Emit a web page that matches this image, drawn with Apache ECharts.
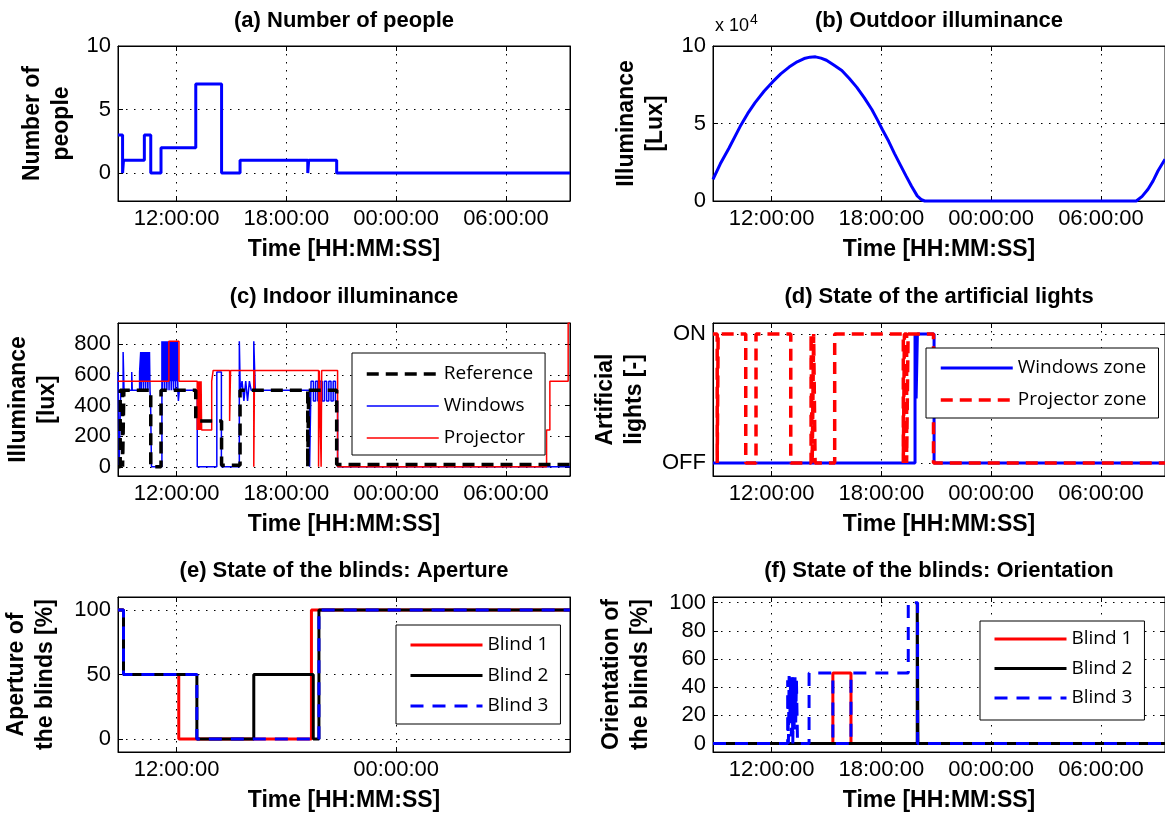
<!DOCTYPE html>
<html>
<head>
<meta charset="utf-8">
<script src="https://cdn.jsdelivr.net/npm/echarts@6/dist/echarts.min.js"></script>
<style>
  html, body { margin: 0; padding: 0; background: #fff; }
  #chart { width: 1165px; height: 815px; }
</style>
</head>
<body>
<div id="chart"></div>
<script>
  // time is in hours from midnight of the first day (24 = 00:00:00 next day)
  const X_MIN = 8.8
  const X_MAX = 33.5
  const xTicks = [12, 18, 24, 30]
  const xTicksApert = [12, 24]

  // (a) number of people
  const peopleT = [8.8, 9.05, 9.1, 10.24, 10.59, 11.15, 13.05, 14.46, 15.47, 19.17, 19.22, 20.75, 33.5]
  const peopleN = [3, 0, 1, 3, 0, 2, 7, 0, 1, 0, 1, 0, 0]

  // (b) outdoor illuminance [lux]
  const outdoorT = [8.8, 9.2, 9.67, 10.28, 10.7, 11.1, 11.6, 12.07, 12.5, 12.96, 13.4, 13.78, 14.1, 14.4, 14.7, 15.0, 15.4, 15.84, 16.25, 16.66, 17.07, 17.48, 17.8, 18.06, 18.4, 18.72, 19.05, 19.34, 19.65, 19.96, 20.2, 20.37, 31.93, 32.25, 32.57, 32.85, 33.12, 33.5]
  const outdoorLux = [14000, 24000, 34000, 48000, 56500, 63500, 71000, 77000, 82000, 86400, 89800, 91900, 92800, 93000, 92200, 90800, 87700, 84200, 79000, 73300, 66500, 59000, 52000, 46000, 38500, 30600, 23000, 16400, 9500, 3300, 800, 0, 0, 3000, 7600, 13000, 19500, 27000]

  // (c) indoor illuminance [lux]
  const refT = [8.8, 8.92, 9.05, 9.12, 10.59, 11.15, 13.05, 14.46, 15.47, 19.17, 19.22, 20.75, 33.5]
  const refLux = [0, 500, 0, 500, 0, 500, 300, 10, 500, 0, 500, 15, 15]
  const winT = [8.8, 8.86, 8.95, 9.08, 9.13, 9.55, 9.58, 9.98, 10.04, 10.07, 10.1, 10.13, 10.16, 10.19, 10.22, 10.25, 10.28, 10.31, 10.34,
    10.37, 10.4, 10.43, 10.46, 10.49, 10.52, 10.55, 10.58, 10.63,
    11.2, 11.23, 11.26, 11.29, 11.32, 11.35, 11.38, 11.41, 11.44, 11.47, 11.5, 11.53, 11.56, 11.59, 11.62, 11.65, 11.68, 11.71, 11.74,
    11.77, 11.8, 11.83, 11.86, 11.89, 11.92, 11.95, 11.98, 12.01, 12.04, 12.07, 12.1, 12.15, 13.13, 14.2, 14.45,
    15.43, 15.48, 15.58, 15.68, 15.78, 15.88, 15.98, 16.08, 16.22, 16.3, 19.27, 19.35, 19.48, 19.6, 19.72, 19.84, 19.96, 20.08, 20.2,
    20.32, 20.44, 20.56, 20.68, 20.8, 33.5]
  const winLux = [620, 0, 500, 750, 500, 620, 500, 620, 750, 500, 750, 560, 750, 500, 750, 560, 750, 500, 750,
    560, 750, 500, 750, 560, 750, 500, 430, 0,
    820, 500, 820, 560, 820, 500, 820, 560, 820, 500, 820, 560, 820, 500, 820, 560, 820, 500, 820,
    560, 820, 500, 820, 560, 820, 500, 820, 560, 820, 500, 430, 500, 0, 620, 0,
    820, 500, 560, 430, 560, 430, 560, 500, 820, 500, 0, 560, 430, 560, 430, 560, 430, 560, 430,
    560, 430, 560, 430, 0, 0]
  const projT = [8.8, 11.58, 12.13, 13.13, 13.16, 13.19, 13.22, 13.25, 13.28, 13.31, 13.34, 13.37, 13.92, 14.0, 14.9, 14.95,
    16.22, 16.26, 19.76, 19.8, 19.9, 19.93, 20.8, 32.22, 32.4, 33.4, 33.5]
  const projLux = [560, 820, 560, 240, 560, 240, 560, 240, 560, 240, 560, 240, 560, 630, 300, 630,
    0, 630, 0, 630, 0, 630, 0, 240, 560, 940, 940]

  // (d) artificial lights (1 = ON, 0 = OFF)
  const lightWinT = [8.8, 19.84, 19.9, 19.97, 20.88, 33.5]
  const lightWinV = [0, 1, 0.5, 1, 0, 0]
  const lightProjT = [8.8, 9.03, 9.08, 10.59, 11.15, 13.05, 14.16, 14.22, 14.3, 14.38, 15.45, 19.2, 19.26, 19.38, 19.46, 20.85, 33.5]
  const lightProjV = [1, 0, 1, 0, 1, 0, 1, 0, 1, 0, 1, 0, 1, 0, 1, 0, 0]

  // (e) blinds aperture [%]
  const ap1T = [8.8, 9.1, 12.12, 19.37, 33.5]
  const ap1V = [100, 50, 0, 100, 100]
  const ap2T = [8.8, 9.1, 13.11, 16.22, 19.47, 19.78, 33.5]
  const ap2V = [100, 50, 0, 50, 0, 100, 100]
  const ap3T = [8.8, 9.1, 13.11, 19.78, 33.5]
  const ap3V = [100, 50, 0, 100, 100]

  // (f) blinds orientation [%]
  const or1T = [8.8, 15.35, 16.34, 33.5]
  const or1V = [0, 50, 0, 0]
  const or2T = [8.8, 19.96, 20.0, 33.5]
  const or2V = [0, 100, 0, 0]
  const or3T = [8.8, 12.88, 12.92, 12.96, 13.0, 13.04, 13.08, 13.12, 13.16, 13.2, 13.24, 13.28, 13.32, 13.36, 13.42, 14.05, 15.35, 16.34, 19.47, 19.98, 33.5]
  const or3V = [0, 45, 0, 48, 20, 45, 5, 48, 0, 40, 10, 48, 15, 45, 0, 50, 0, 50, 100, 0, 0]

  const FONT = '"Liberation Sans", Arial, sans-serif'
  const LEG_FONT = '"Open Sans", "DejaVu Sans", sans-serif'
  const BLUE = '#0000ff'
  const RED = '#ff0000'
  const BLACK = '#000000'

  const pair = (t, v) => t.map((x, i) => [x, v[i]])
  const hourLabel = (v) => String(((v % 24) + 24) % 24).padStart(2, '0') + ':00:00'

  const COLS = [118, 713]
  const WIDTH = 452
  const ROWS = [
    { top: 46, height: 155, titleTop: 10 },
    { top: 323, height: 153, titleTop: 286 },
    { top: 597, height: 155, titleTop: 560 }
  ]

  // one entry per subplot
  const panels = [
    {
      title: '(a) Number of people', col: 0, row: 0,
      yName: 'Number of\npeople', yGap: 42, yMin: -2.2, yMax: 10, yTicks: [0, 5, 10],
      series: [{ name: 'People', data: pair(peopleT, peopleN), color: BLUE, width: 3 }]
    },
    {
      title: '(b) Outdoor illuminance', col: 1, row: 0,
      yName: 'Illuminance\n[Lux]', yGap: 43, yMin: 0, yMax: 100000, yTicks: [0, 50000, 100000],
      yFmt: (v) => String(v / 10000), step: false, clip: false,
      series: [{ name: 'Outdoor', data: pair(outdoorT, outdoorLux), color: BLUE, width: 3 }]
    },
    {
      title: '(c) Indoor illuminance', col: 0, row: 1,
      yName: 'Illuminance\n[lux]', yGap: 56, yMin: -60, yMax: 940, yTicks: [0, 200, 400, 600, 800],
      series: [
        { name: 'Windows', data: pair(winT, winLux), color: BLUE, width: 1.5 },
        { name: 'Projector', data: pair(projT, projLux), color: RED, width: 1.5 },
        { name: 'Reference', data: pair(refT, refLux), color: BLACK, width: 3.5, dash: [12, 7] }
      ],
      legend: { names: ['Reference', 'Windows', 'Projector'], left: 352, top: 353, gap: 12, padding: [11, 12, 7, 13] }
    },
    {
      title: '(d) State of the artificial lights', col: 1, row: 1,
      yName: 'Artificial\nlights [-]', yGap: 64, yMin: -0.1, yMax: 1.085, yTicks: [0, 1],
      yFmt: (v) => (v === 1 ? 'ON' : 'OFF'),
      series: [
        { name: 'Windows zone', data: pair(lightWinT, lightWinV), color: BLUE, width: 3 },
        { name: 'Projector zone', data: pair(lightProjT, lightProjV), color: RED, width: 3.5, dash: [12, 7] }
      ],
      legend: { names: ['Windows zone', 'Projector zone'], left: 926, top: 348, gap: 12, padding: [10, 12, 8, 13] }
    },
    {
      title: '(e) State of the blinds: Aperture', col: 0, row: 2, xt: xTicksApert,
      yName: 'Aperture of\nthe blinds [%]', yGap: 58, yMin: -10, yMax: 110, yTicks: [0, 50, 100],
      series: [
        { name: 'Blind 1', data: pair(ap1T, ap1V), color: RED, width: 3 },
        { name: 'Blind 2', data: pair(ap2T, ap2V), color: BLACK, width: 3 },
        { name: 'Blind 3', data: pair(ap3T, ap3V), color: BLUE, width: 3, dash: [13, 9] }
      ],
      legend: { names: ['Blind 1', 'Blind 2', 'Blind 3'], left: 396, top: 625, gap: 10.5, padding: [10, 12, 8, 13] }
    },
    {
      title: '(f) State of the blinds: Orientation', col: 1, row: 2,
      yName: 'Orientation of\nthe blinds [%]', yGap: 58, yMin: -6, yMax: 104, yTicks: [0, 20, 40, 60, 80, 100],
      series: [
        { name: 'Blind 1', data: pair(or1T, or1V), color: RED, width: 3 },
        { name: 'Blind 2', data: pair(or2T, or2V), color: BLACK, width: 3 },
        { name: 'Blind 3', data: pair(or3T, or3V), color: BLUE, width: 3, dash: [13, 9] }
      ],
      legend: { names: ['Blind 1', 'Blind 2', 'Blind 3'], left: 980, top: 621, gap: 9.5, padding: [8, 12, 12, 13] }
    }
  ]

  const tickStyle = { show: true, inside: true, length: 5, lineStyle: { color: BLACK, width: 1 } }
  const dotted = { show: true, lineStyle: { color: BLACK, width: 1, type: [1.5, 6.5] } }
  const boxLine = { show: true, onZero: false, lineStyle: { color: BLACK, width: 1 } }
  const boldText = { fontFamily: FONT, fontWeight: 'bold', fontSize: 23, color: BLACK }

  const grid = []
  const xAxis = []
  const yAxis = []
  const series = []
  const title = []
  const legend = []

  panels.forEach((p, i) => {
    const r = ROWS[p.row]
    const left = COLS[p.col]
    const xt = p.xt || xTicks
    grid.push({ left: left, top: r.top, width: WIDTH, height: r.height, show: true, borderColor: BLACK, borderWidth: 1 })
    title.push({
      text: p.title, left: left + WIDTH / 2, top: r.titleTop, textAlign: 'center', padding: 0,
      textStyle: { ...boldText, fontSize: 22 }
    })
    // bottom x axis with labels, top x axis only for the inward ticks
    xAxis.push({
      gridIndex: i, type: 'value', min: X_MIN, max: X_MAX, position: 'bottom',
      axisLine: boxLine,
      axisTick: { ...tickStyle, customValues: xt },
      axisLabel: { customValues: xt, formatter: hourLabel, color: BLACK, fontFamily: FONT, fontSize: 22, margin: 7 },
      splitLine: dotted,
      name: 'Time [HH:MM:SS]', nameLocation: 'middle', nameGap: 37,
      nameTextStyle: boldText
    })
    xAxis.push({
      gridIndex: i, type: 'value', min: X_MIN, max: X_MAX, position: 'top',
      axisLine: boxLine, axisTick: { ...tickStyle, customValues: xt },
      axisLabel: { show: false }, splitLine: { show: false }
    })
    yAxis.push({
      gridIndex: i, type: 'value', min: p.yMin, max: p.yMax, position: 'left',
      axisLine: boxLine,
      axisTick: { ...tickStyle, customValues: p.yTicks },
      axisLabel: { customValues: p.yTicks, formatter: p.yFmt || ((v) => String(v)), color: BLACK, fontFamily: FONT, fontSize: 22, margin: 7 },
      splitLine: dotted,
      name: p.yName, nameLocation: 'middle', nameRotate: 90, nameGap: p.yGap,
      nameTextStyle: { ...boldText, lineHeight: 29 }
    })
    yAxis.push({
      gridIndex: i, type: 'value', min: p.yMin, max: p.yMax, position: 'right',
      axisLine: boxLine, axisTick: { ...tickStyle, customValues: p.yTicks },
      axisLabel: { show: false }, splitLine: { show: false }
    })
    p.series.forEach((s) => {
      series.push({
        name: s.name, type: 'line', xAxisIndex: 2 * i, yAxisIndex: 2 * i,
        step: p.step === false ? false : 'end',
        clip: p.clip !== false,
        symbol: 'none', showSymbol: false, animation: false,
        color: s.color,
        lineStyle: { color: s.color, width: s.width, type: s.dash || 'solid', cap: 'butt' },
        data: s.data
      })
    })
    if (p.legend) {
      // legend entries carry the same stroke as their series
      const items = p.legend.names.map((n) => {
        const s = p.series.find((x) => x.name === n)
        return { name: n, lineStyle: { color: s.color, width: s.width, type: s.dash || 'solid', cap: 'butt' } }
      })
      legend.push({
        data: items, left: p.legend.left, top: p.legend.top, orient: 'vertical',
        itemWidth: 72, itemHeight: 20, itemGap: p.legend.gap, padding: p.legend.padding,
        borderColor: BLACK, borderWidth: 1, backgroundColor: '#fff', borderRadius: 0,
        selectedMode: false,
        // hide the marker circle, keep only the line sample
        itemStyle: { opacity: 0, borderWidth: 0 },
        textStyle: { fontFamily: LEG_FONT, fontSize: 19, lineHeight: 20, color: BLACK }
      })
    }
  })

  const chart = echarts.init(document.getElementById('chart'))
  chart.setOption({
    backgroundColor: '#fff',
    animation: false,
    title: title,
    grid: grid,
    xAxis: xAxis,
    yAxis: yAxis,
    legend: legend,
    series: series,
    graphic: [
      {
        type: 'text', left: 715, top: 13,
        style: {
          text: 'x 10{sup|4}', fill: BLACK, fontFamily: FONT, fontSize: 18,
          rich: { sup: { fontSize: 14, verticalAlign: 'top', padding: [0, 0, 12, 1], fontFamily: FONT } }
        }
      }
    ]
  })
</script>
</body>
</html>
